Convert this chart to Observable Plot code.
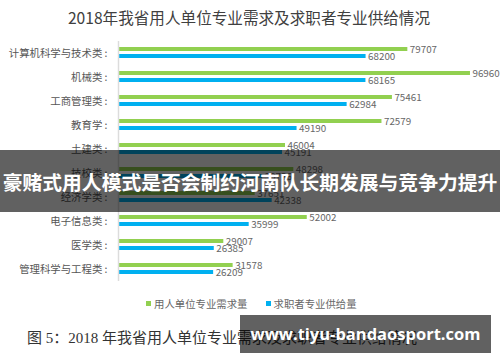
<!DOCTYPE html>
<html>
<head>
<meta charset="utf-8">
<script src="https://cdn.jsdelivr.net/npm/d3@7"></script>
<script src="https://cdn.jsdelivr.net/npm/@observablehq/plot@0.6"></script>
<style>
  html, body { margin: 0; padding: 0; background: #fff; }
  #wrap { position: relative; width: 500px; height: 362px; overflow: hidden; font-family: "Noto Sans CJK SC", "Noto Sans", sans-serif; }
  #chart { position: absolute; left: 0; top: 0; }
  .abs { position: absolute; white-space: nowrap; }
  #title { left: 0; width: 498px; top: 7px; text-align: center; font-size: 15.6px; color: #404040; line-height: 20px; }
  #legend { top: 297px; font-size: 10.4px; color: #666; line-height: 14px; }
  .sw { display: inline-block; width: 5px; height: 5px; margin-right: 3px; vertical-align: 2px; }
  #caption { left: 27px; top: 328px; font-size: 15px; color: #333; font-family: "Liberation Serif", "DejaVu Serif", "Noto Sans CJK SC", serif; line-height: 20px; }
  #banner { left: 0; top: 150px; width: 500px; height: 62px; background: rgba(0,0,0,0.62); }
  #bannerText { left: -4px; width: 508px; top: 169px; text-align: center; color: #fff; font-weight: 700; font-size: 19.8px; line-height: 26px; }
  #wm { left: 240px; top: 315px; width: 251px; height: 38px; background: rgba(0,0,0,0.62); color: #fff; font-weight: 700; font-size: 16.5px; line-height: 38px; text-align: center; font-family: "Open Sans", "DejaVu Sans", sans-serif; }
</style>
</head>
<body>
<div id="wrap">
  <div id="chart"></div>
  <div id="title" class="abs"></div>
  <div id="legend" class="abs"></div>
  <div id="caption" class="abs"></div>
  <div id="banner" class="abs"></div>
  <div id="bannerText" class="abs"></div>
  <div id="wm" class="abs"></div>
</div>
<script>
const titleText = "2018年我省用人单位专业需求及求职者专业供给情况";
const captionText = "图 5：2018 年我省用人单位专业需求及求职者专业供给情况";
const bannerLine = "豪赌式用人模式是否会制约河南队长期发展与竞争力提升";
const watermark = "www.tiyu-bandaosport.com";

const categories = ["计算机科学与技术类", "机械类", "工商管理类", "教育学", "土建类", "技校类", "经济学类", "电子信息类", "医学类", "管理科学与工程类"];
const seriesNames = ["用人单位专业需求量", "求职者专业供给量"];
const demand = [79707, 96960, 75461, 72579, 46004, 48298, 37651, 52002, 29007, 31578];
const supply = [68200, 68165, 62984, 49190, 45191, 39726, 42338, 35999, 26385, 26209];
const seriesColors = ["#92d050", "#00b0f0"];

const rows = [];
categories.forEach((c, i) => {
  rows.push({cat: c, series: seriesNames[0], value: demand[i]});
  rows.push({cat: c, series: seriesNames[1], value: supply[i]});
});

const chart = Plot.plot({
  width: 500,
  height: 288,
  marginTop: 38,
  marginBottom: 4,
  marginLeft: 118,
  marginRight: 19,
  style: {fontFamily: '"Noto Sans CJK SC", sans-serif', fontSize: "10.4px", color: "#555", background: "transparent", overflow: "visible"},
  x: {domain: [0, 100000], axis: null},
  y: {domain: seriesNames, axis: null, paddingInner: 0.4, paddingOuter: 0.73},
  fy: {domain: categories, paddingInner: 0, paddingOuter: 0, tickSize: 0, tickPadding: 11, tickFormat: d => d + " :", label: null},
  color: {domain: seriesNames, range: seriesColors},
  marks: [
    Plot.barX(rows, {fy: "cat", y: "series", x: "value", fill: "series"}),
    Plot.text(rows, {fy: "cat", y: "series", x: "value", text: d => String(d.value), dx: 2, textAnchor: "start", fill: "#666", fontSize: 9.8}),
    Plot.ruleX([0], {stroke: "#dcdcdc", strokeWidth: 1.5})
  ]
});
document.getElementById("chart").appendChild(chart);

document.getElementById("title").textContent = titleText;
const leg = document.getElementById("legend");
leg.style.left = "146px";
seriesNames.forEach((s, i) => {
  const item = document.createElement("span");
  item.style.marginRight = i === 0 ? "18px" : "0";
  const sw = document.createElement("span");
  sw.className = "sw";
  sw.style.background = seriesColors[i];
  item.appendChild(sw);
  item.appendChild(document.createTextNode(s));
  leg.appendChild(item);
});
document.getElementById("caption").textContent = captionText;
document.getElementById("bannerText").textContent = bannerLine;
document.getElementById("wm").textContent = watermark;
</script>
</body>
</html>
